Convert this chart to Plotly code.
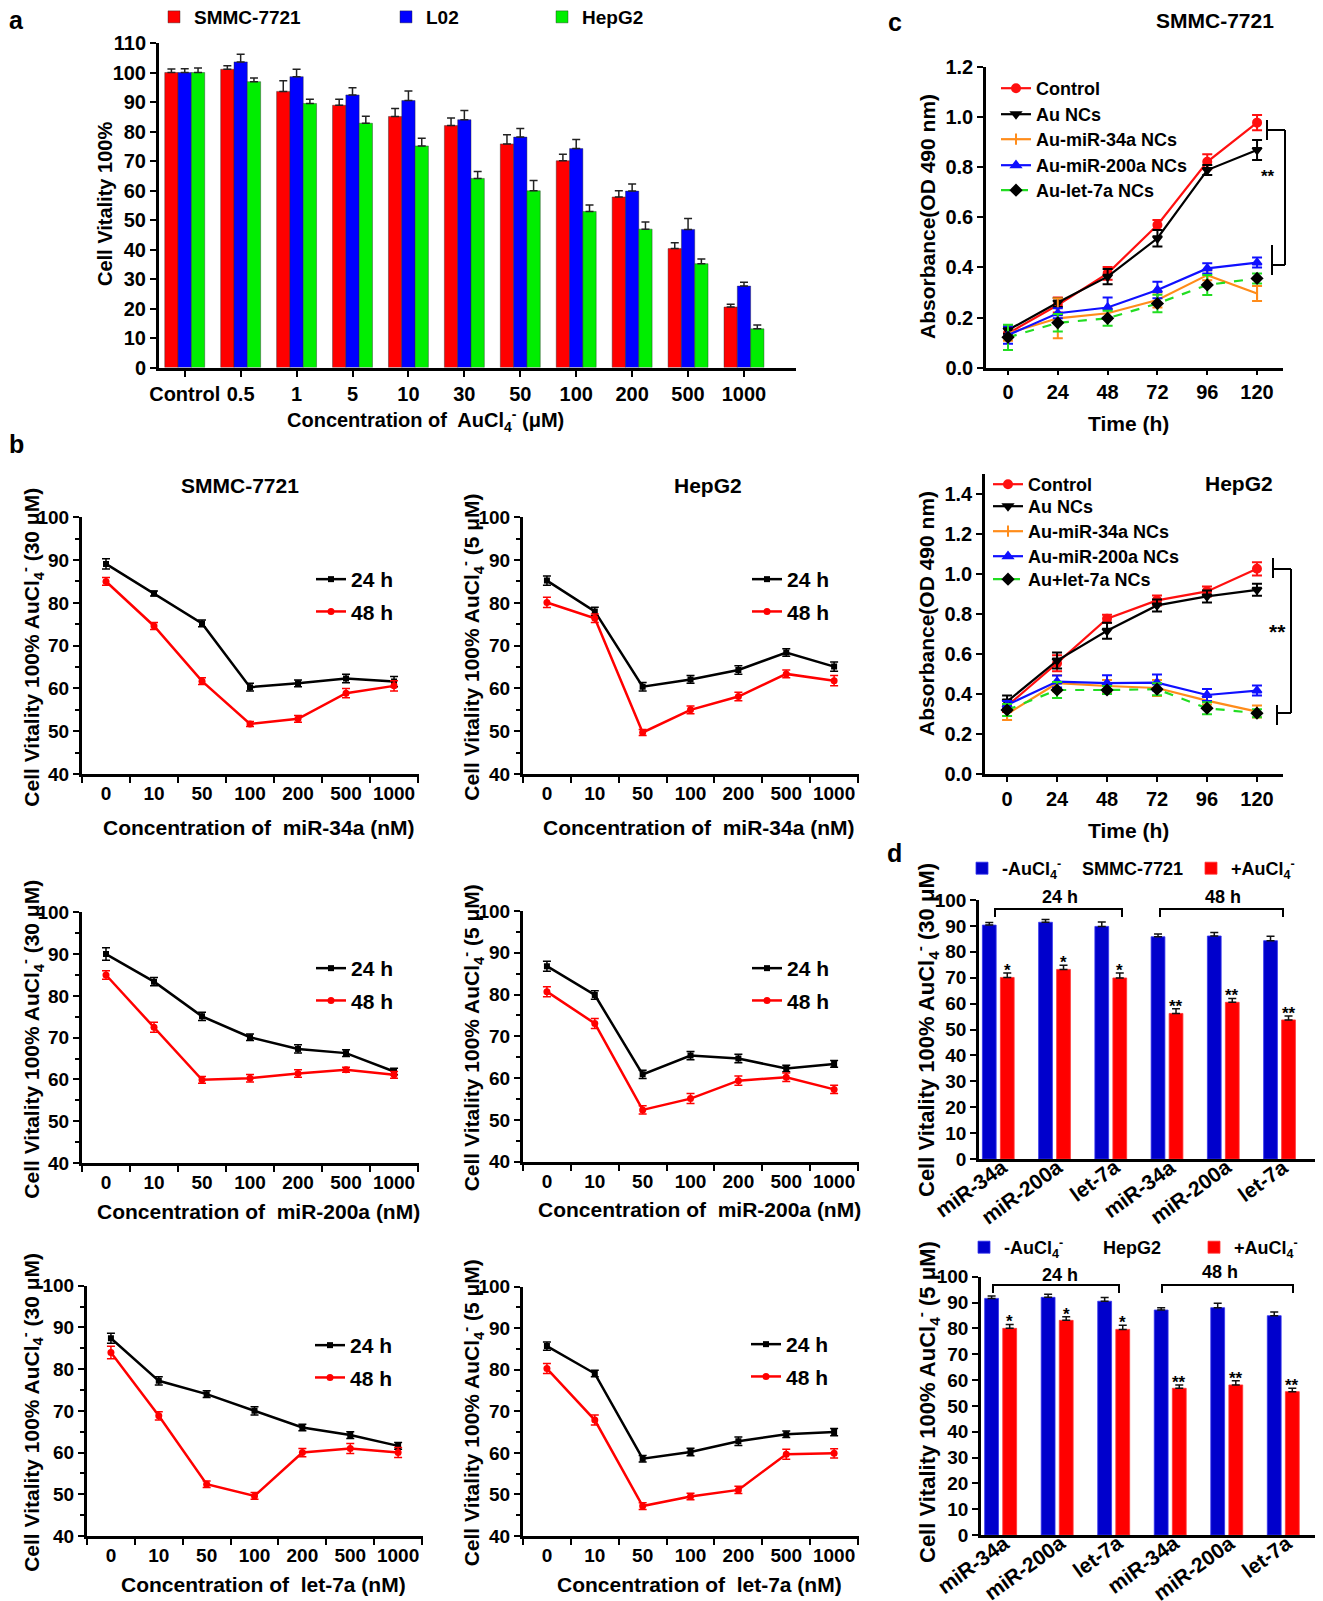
import plotly.graph_objects as go

W, H = 1323, 1601
OFF = 8  # page body margin of the browser
FONT = "Liberation Sans, Arial, Helvetica, sans-serif"

# ---------------- data ----------------
# panel a
a_categories = ['Control', '0.5', '1', '5', '10', '30', '50', '100', '200', '500', '1000']
a_smmc = [100, 101.1, 93.6, 88.9, 85.1, 82.0, 75.8, 70.1, 57.8, 40.3, 20.5]
a_smmc_err = [1.2, 1.2, 3.6, 2.0, 2.7, 2.6, 3.1, 2.2, 2.1, 2.0, 0.9]
a_l02 = [100, 103.6, 98.6, 92.4, 90.5, 84.0, 78.1, 74.2, 59.8, 46.8, 27.6]
a_l02_err = [1.3, 2.6, 2.5, 2.4, 3.2, 3.1, 2.9, 3.1, 2.4, 3.7, 1.3]
a_hepg2 = [100, 96.9, 89.5, 82.8, 75.1, 64.1, 59.9, 52.9, 46.9, 35.2, 13.1]
a_hepg2_err = [1.5, 1.2, 1.4, 2.4, 2.6, 2.3, 3.5, 2.2, 2.4, 1.6, 1.3]

# panel c
c_time = [0, 24, 48, 72, 96, 120]
c1_control = [0.137, 0.25, 0.376, 0.569, 0.821, 0.977]
c1_control_err = [0.02, 0.03, 0.025, 0.02, 0.03, 0.03]
c1_au = [0.15, 0.26, 0.363, 0.516, 0.788, 0.868]
c1_au_err = [0.015, 0.018, 0.03, 0.033, 0.02, 0.04]
c1_34a = [0.137, 0.197, 0.217, 0.27, 0.369, 0.296]
c1_34a_err = [0.03, 0.08, 0.02, 0.03, 0.02, 0.03]
c1_200a = [0.13, 0.217, 0.24, 0.31, 0.396, 0.419]
c1_200a_err = [0.035, 0.02, 0.04, 0.033, 0.02, 0.02]
c1_let7a = [0.121, 0.179, 0.197, 0.256, 0.33, 0.356]
c1_let7a_err = [0.05, 0.035, 0.03, 0.035, 0.04, 0.02]

c2_control = [0.34, 0.554, 0.776, 0.868, 0.913, 1.026]
c2_control_err = [0.03, 0.04, 0.02, 0.025, 0.025, 0.033]
c2_au = [0.362, 0.567, 0.716, 0.843, 0.888, 0.921]
c2_au_err = [0.03, 0.04, 0.04, 0.03, 0.03, 0.03]
c2_34a = [0.30, 0.454, 0.44, 0.43, 0.367, 0.312]
c2_34a_err = [0.03, 0.04, 0.03, 0.04, 0.02, 0.03]
c2_200a = [0.345, 0.462, 0.454, 0.457, 0.395, 0.417]
c2_200a_err = [0.02, 0.03, 0.04, 0.04, 0.03, 0.025]
c2_let7a = [0.32, 0.42, 0.42, 0.424, 0.329, 0.304]
c2_let7a_err = [0.03, 0.04, 0.02, 0.03, 0.03, 0.02]

c1_names = ['Control', 'Au NCs', 'Au-miR-34a NCs', 'Au-miR-200a NCs', 'Au-let-7a NCs']
c2_names = ['Control', 'Au NCs', 'Au-miR-34a NCs', 'Au-miR-200a NCs', 'Au+let-7a NCs']

# panel b
b_conc = ['0', '10', '50', '100', '200', '500', '1000']
b1_24 = [89.1, 82.2, 75.2, 60.3, 61.2, 62.3, 61.6]
b1_24_err = [1.2, 0.6, 0.8, 0.9, 0.8, 1.0, 1.2]
b1_48 = [85.0, 74.6, 61.7, 51.7, 52.9, 58.9, 60.6]
b1_48_err = [0.9, 0.8, 0.8, 0.6, 0.8, 1.1, 1.2]
b2_24 = [85.2, 78.0, 60.4, 62.1, 64.3, 68.4, 65.1]
b2_24_err = [1.1, 1.0, 1.0, 0.9, 1.0, 0.9, 1.1]
b2_48 = [80.1, 76.4, 49.7, 55.0, 58.1, 63.4, 61.8]
b2_48_err = [1.2, 1.0, 0.7, 0.9, 1.0, 0.9, 1.2]
b3_24 = [90.0, 83.4, 75.1, 70.1, 67.3, 66.3, 61.9]
b3_24_err = [1.5, 1.0, 1.0, 0.8, 1.0, 0.8, 0.8]
b3_48 = [85.0, 72.5, 59.9, 60.3, 61.4, 62.3, 61.1]
b3_48_err = [1.0, 1.2, 0.8, 0.9, 0.9, 0.6, 0.8]
b4_24 = [86.8, 79.9, 60.9, 65.4, 64.7, 62.3, 63.4]
b4_24_err = [1.2, 1.0, 1.0, 1.0, 1.0, 0.8, 0.8]
b4_48 = [80.7, 73.1, 52.4, 55.1, 59.4, 60.2, 57.3]
b4_48_err = [1.2, 1.2, 1.0, 1.2, 1.1, 1.0, 1.0]
b5_24 = [87.4, 77.2, 74.0, 70.0, 66.0, 64.2, 61.6]
b5_24_err = [1.2, 1.0, 0.8, 1.0, 0.8, 0.8, 0.8]
b5_48 = [84.0, 68.8, 52.4, 49.6, 60.0, 61.0, 60.0]
b5_48_err = [1.5, 1.0, 0.8, 0.8, 1.0, 1.2, 1.2]
b6_24 = [85.7, 79.1, 58.6, 60.2, 62.8, 64.5, 65.0]
b6_24_err = [1.0, 0.8, 0.8, 0.9, 1.0, 0.8, 0.9]
b6_48 = [80.3, 67.9, 47.2, 49.5, 51.1, 59.7, 59.9]
b6_48_err = [1.2, 1.2, 0.8, 0.8, 0.9, 1.2, 1.1]

# panel d
d_labels = ['miR-34a', 'miR-200a', 'let-7a', 'miR-34a', 'miR-200a', 'let-7a']
d1_minus = [90.3, 91.4, 89.8, 85.8, 86.1, 84.3]
d1_minus_err = [1.0, 1.1, 1.7, 1.1, 1.4, 1.7]
d1_plus = [70.1, 73.2, 69.9, 56.2, 60.5, 53.7]
d1_plus_err = [1.7, 1.6, 1.9, 1.8, 1.5, 1.5]
d2_minus = [91.6, 92.0, 90.5, 87.1, 88.0, 84.9]
d2_minus_err = [0.9, 1.2, 1.4, 0.9, 1.7, 1.4]
d2_plus = [80.0, 83.1, 79.6, 56.8, 58.1, 55.5]
d2_plus_err = [1.5, 1.4, 1.6, 1.3, 1.6, 1.3]
d_stars = ['*', '*', '*', '**', '**', '**']

# ---------------- helpers (page pixel -> paper) ----------------
def X(p):
    return (p - OFF) / W


def Y(p):
    return 1 - (p - OFF) / H


def xdom(a, b):
    return [X(a), X(b)]


def ydom(top, bot):
    return [Y(bot), Y(top)]


fig = go.Figure()
annotations = []
shapes = []
layout = {}


def bfont(size):
    return dict(size=size, family=FONT, color='black', weight='bold')


def txt(t, x, y, size, angle=0, xanchor='center', yanchor='middle'):
    annotations.append(dict(text=t, x=X(x), y=Y(y), xref='paper', yref='paper',
                            showarrow=False, textangle=angle, xanchor=xanchor, yanchor=yanchor,
                            font=bfont(size)))


def seg(x0, y0, x1, y1, w=2):
    shapes.append(dict(type='line', xref='paper', yref='paper', x0=X(x0), y0=Y(y0),
                       x1=X(x1), y1=Y(y1), line=dict(color='black', width=w)))


def ax_common(lw, size):
    return dict(showline=True, linecolor='black', linewidth=lw, ticks='outside',
                tickcolor='black', tickwidth=2, ticklen=6, showgrid=False, zeroline=False,
                mirror=False, fixedrange=True, automargin=False, tickfont=bfont(size))


def add_axes(n, xd, yd, xcfg, ycfg):
    xk = 'xaxis' if n == 1 else 'xaxis%d' % n
    yk = 'yaxis' if n == 1 else 'yaxis%d' % n
    layout[xk] = dict(domain=xd, anchor='y' if n == 1 else 'y%d' % n, **xcfg)
    layout[yk] = dict(domain=yd, anchor='x' if n == 1 else 'x%d' % n, **ycfg)


def refs(n):
    return ('x', 'y') if n == 1 else ('x%d' % n, 'y%d' % n)


def legend(x, y, size, gap=0, **kw):
    d = dict(x=X(x), y=Y(y), xanchor='left', yanchor='top', bgcolor='rgba(0,0,0,0)',
             font=bfont(size), itemwidth=30, tracegroupgap=gap, traceorder='grouped',
             borderwidth=0)
    d.update(kw)
    return d


# ---------------- panel a ----------------
xa, ya = refs(1)
bw_a = 0.238
for i, (name, vals, err, col, leg, lx) in enumerate([
        ('SMMC-7721', a_smmc, a_smmc_err, '#FF0000', 'legend', 154),
        ('L02', a_l02, a_l02_err, '#0000FF', 'legend2', 386),
        ('HepG2', a_hepg2, a_hepg2_err, '#00EE00', 'legend3', 542)]):
    fig.add_trace(go.Bar(x=a_categories, y=vals, name=name, xaxis=xa, yaxis=ya,
                         width=bw_a, offset=-1.5 * bw_a + i * bw_a,
                         marker=dict(color=col, line=dict(color='rgba(40,40,40,0.7)', width=0.6)),
                         error_y=dict(type='data', symmetric=False, array=err,
                                      arrayminus=[0] * len(err), color='#222', thickness=1.5, width=4),
                         legend=leg, showlegend=True))
    layout[leg] = legend(lx, -2, 19)
xc = ax_common(3, 20)
xc.update(range=[-0.46, 10.93], type='category', ticklen=6, tickangle=0)
yc = ax_common(3, 20)
yc.update(range=[0, 110], dtick=10, tick0=0)
add_axes(1, xdom(159, 796), ydom(43, 367.5), xc, yc)
txt('a', 16, 20, 25)
txt('Cell Vitality 100%', 105, 204, 20, angle=-90)
txt('Concentration of  AuCl<sub>4</sub><sup>-</sup> (μM)', 425, 420, 20)

# ---------------- panel c ----------------
c_styles = [
    dict(color='#FF1010', symbol='circle', dash='solid', mcolor='#FF1010'),
    dict(color='#000000', symbol='triangle-down', dash='solid', mcolor='#000000'),
    dict(color='#FF8C1A', symbol='line-ns-open', dash='solid', mcolor='#FF8C1A'),
    dict(color='#1010FF', symbol='triangle-up', dash='solid', mcolor='#1010FF'),
    dict(color='#22DD22', symbol='diamond', dash='dash', mcolor='#000000'),
]
c_sets = [
    (2, [c1_control, c1_au, c1_34a, c1_200a, c1_let7a],
     [c1_control_err, c1_au_err, c1_34a_err, c1_200a_err, c1_let7a_err], c1_names,
     996, [89, 115, 140, 166, 191]),
    (3, [c2_control, c2_au, c2_34a, c2_200a, c2_let7a],
     [c2_control_err, c2_au_err, c2_34a_err, c2_200a_err, c2_let7a_err], c2_names,
     988, [485, 507, 532, 557, 580]),
]
for n, series, errs, names, lx, lys in c_sets:
    xr, yr = refs(n)
    for k, (vals, err, name, st, ly) in enumerate(zip(series, errs, names, c_styles, lys)):
        leg = 'legend%d' % (10 * n + k)
        fig.add_trace(go.Scatter(
            x=c_time, y=vals, name=name, xaxis=xr, yaxis=yr, mode='lines+markers',
            line=dict(color=st['color'], width=2.2, dash=st['dash']),
            marker=dict(symbol=st['symbol'], color=st['mcolor'], size=8,
                        line=dict(color=st['mcolor'], width=2)),
            error_y=dict(type='data', array=err, color=st['color'] if k != 4 else '#22DD22',
                         thickness=2, width=5),
            legend=leg, showlegend=True))
        layout[leg] = legend(lx, ly - 19, 18)

xc = ax_common(2.5, 20)
xc.update(range=[-10.6, 132.5], tickvals=c_time, ticklen=5, tickangle=0)
yc = ax_common(2.5, 20)
yc.update(range=[0, 1.2], dtick=0.2, tickformat='.1f')
add_axes(2, xdom(986, 1283), ydom(66.7, 367.7), xc, yc)
xc = ax_common(2.5, 20)
xc.update(range=[-10.6, 132.5], tickvals=c_time, ticklen=5, tickangle=0)
yc = ax_common(2.5, 20)
yc.update(range=[0, 1.5], tickvals=[0, 0.2, 0.4, 0.6, 0.8, 1.0, 1.2, 1.4], tickformat='.1f')
add_axes(3, xdom(985, 1283), ydom(474, 774), xc, yc)

txt('c', 895, 22, 25)
txt('SMMC-7721', 1215, 20, 21)
txt('Absorbance(OD 490 nm)', 927, 217, 21, angle=-90)
txt('Time (h)', 1128, 423, 21)
txt('HepG2', 1239, 483, 21)
txt('Absorbance(OD 490 nm)', 927, 614, 21, angle=-90)
txt('Time (h)', 1128, 830, 21)
# significance brackets
seg(1267, 120, 1267, 140); seg(1267, 130, 1285, 130); seg(1285, 130, 1285, 265)
seg(1272, 265, 1285, 265); seg(1272, 245, 1272, 275)
txt('**', 1268, 176, 17)
seg(1273, 558, 1273, 578); seg(1273, 569, 1291, 569); seg(1291, 569, 1291, 713)
seg(1277, 713, 1291, 713); seg(1277, 705, 1277, 725)
txt('**', 1277, 631, 21)

# ---------------- panel b ----------------
b_sets = [
    (4, (82, 419), (517.3, 774), b1_24, b1_24_err, b1_48, b1_48_err, 'miR-34a', '30', 'legend6', (311, 559)),
    (5, (523, 859), (517.3, 774), b2_24, b2_24_err, b2_48, b2_48_err, 'miR-34a', '5', 'legend7', (747, 559)),
    (6, (82, 419), (912.3, 1163), b3_24, b3_24_err, b3_48, b3_48_err, 'miR-200a', '30', 'legend8', (311, 948)),
    (7, (523, 859), (911, 1161.7), b4_24, b4_24_err, b4_48, b4_48_err, 'miR-200a', '5', 'legend9', (747, 948)),
    (8, (87, 423), (1285.7, 1536), b5_24, b5_24_err, b5_48, b5_48_err, 'let-7a', '30', 'legend10', (310, 1325)),
    (9, (523, 859), (1286.7, 1536), b6_24, b6_24_err, b6_48, b6_48_err, 'let-7a', '5', 'legend11', (746, 1324)),
]
for n, xd, yd, v24, e24, v48, e48, mir, conc, leg, lpos in b_sets:
    xr, yr = refs(n)
    fig.add_trace(go.Scatter(x=b_conc, y=v24, name='24 h', xaxis=xr, yaxis=yr, mode='lines+markers',
                             line=dict(color='black', width=2.5),
                             marker=dict(symbol='square', size=6, color='black'),
                             error_y=dict(type='data', array=e24, color='black', thickness=1.5, width=4),
                             legend=leg, legendgroup=leg + 'a'))
    fig.add_trace(go.Scatter(x=b_conc, y=v48, name='48 h', xaxis=xr, yaxis=yr, mode='lines+markers',
                             line=dict(color='#FF0000', width=2.5),
                             marker=dict(symbol='circle', size=7, color='#FF0000'),
                             error_y=dict(type='data', array=e48, color='#FF0000', thickness=1.5, width=4),
                             legend=leg, legendgroup=leg + 'b'))
    xc = ax_common(3, 19)
    xc.update(type='category', range=[-0.5, 6.52], tickson='boundaries', ticklen=6, tickangle=0)
    yc = ax_common(3, 19)
    yc.update(range=[40, 100], dtick=10,
              minor=dict(dtick=5, ticks='outside', ticklen=4, tickwidth=2, tickcolor='black'))
    add_axes(n, xdom(*xd), ydom(*yd), xc, yc)
    layout[leg] = legend(lpos[0], lpos[1], 21, gap=2)
    ylab_x = 32 if xd[0] < 200 else 472
    ycen = (yd[0] + yd[1]) / 2 + 2
    txt('Cell Vitality 100% AuCl<sub>4</sub><sup>-</sup> (' + conc + ' μM)', ylab_x, ycen, 21, angle=-90)
    xcen = (xd[0] + xd[1]) / 2 + 8
    xlab_y = yd[1] + 53 if n in (4, 5) else yd[1] + 48
    txt('Concentration of  ' + mir + ' (nM)', xcen, xlab_y, 21)

txt('b', 16, 444, 25)
txt('SMMC-7721', 240, 485, 21)
txt('HepG2', 708, 485, 21)

# ---------------- panel d ----------------
d_x = list(range(len(d_labels)))
bw_d = 0.245
d_sets = [
    (10, (979, 1321), (900, 1159), d1_minus, d1_minus_err, d1_plus, d1_plus_err,
     ('legend12', 'legend13'), 'SMMC-7721', '30', (962, 1191, 850), 869, 1030),
    (11, (981, 1321), (1276.7, 1535), d2_minus, d2_minus_err, d2_plus, d2_plus_err,
     ('legend14', 'legend15'), 'HepG2', '5', (964, 1194, 1229), 1248, 1402),
]
for n, xd, yd, vm, em, vp, ep, legs, cell, conc, lpos, ly, ylc in d_sets:
    xr, yr = refs(n)
    fig.add_trace(go.Bar(x=d_x, y=vm, name='-AuCl<sub>4</sub><sup>-</sup>', xaxis=xr, yaxis=yr,
                         width=bw_d, offset=-0.28, marker=dict(color='#0000CC', line=dict(color='#3333EE', width=0.8)),
                         error_y=dict(type='data', symmetric=False, array=em, arrayminus=[0] * len(em),
                                      color='#111', thickness=1.5, width=4),
                         legend=legs[0]))
    fig.add_trace(go.Bar(x=d_x, y=vp, name='+AuCl<sub>4</sub><sup>-</sup>', xaxis=xr, yaxis=yr,
                         width=bw_d, offset=0.04, marker=dict(color='#FF0000', line=dict(color='#FF3333', width=0.8)),
                         error_y=dict(type='data', symmetric=False, array=ep, arrayminus=[0] * len(ep),
                                      color='#111', thickness=1.5, width=4),
                         legend=legs[1]))
    for i, s in enumerate(d_stars):
        annotations.append(dict(text=s, x=d_x[i] + 0.04 + bw_d / 2, y=vp[i] + ep[i], xref=xr, yref=yr,
                                showarrow=False, xanchor='center', yanchor='bottom', yshift=-9,
                                font=bfont(17)))
    # rotated category labels, end of text next to the group
    for i, lab in enumerate(d_labels):
        annotations.append(dict(text=lab, x=d_x[i] + 0.27, y=Y(yd[1] - 7), xref=xr, yref='paper',
                                showarrow=False, xanchor='right', yanchor='top', textangle=-36,
                                font=bfont(21)))
    xc = ax_common(2.5, 21)
    xc.update(range=[-0.34, 5.74] if n == 10 else [-0.345, 5.67], tickvals=d_x,
              showticklabels=False, ticks='')
    yc = ax_common(2.5, 19)
    yc.update(range=[0, 100], dtick=10)
    add_axes(n, xdom(*xd), ydom(*yd), xc, yc)
    layout[legs[0]] = legend(lpos[0], lpos[2], 18)
    layout[legs[1]] = legend(lpos[1], lpos[2], 18)
    txt(cell, 1132, ly, 18)
    txt('Cell Vitality 100% AuCl<sub>4</sub><sup>-</sup> (' + conc + ' μM)', 927, ylc, 22, angle=-90)

txt('d', 895, 853, 25)
# time brackets
txt('24 h', 1060, 897, 18); seg(995, 909, 1122, 909); seg(995, 908, 995, 917); seg(1122, 908, 1122, 917)
txt('48 h', 1223, 897, 18); seg(1160, 909, 1283, 909); seg(1160, 908, 1160, 917); seg(1283, 908, 1283, 917)
txt('24 h', 1060, 1275, 18); seg(993, 1285, 1119, 1285); seg(993, 1284, 993, 1293); seg(1119, 1284, 1119, 1293)
txt('48 h', 1220, 1272, 18); seg(1162, 1285, 1293, 1285); seg(1162, 1284, 1162, 1293); seg(1293, 1284, 1293, 1293)

layout.update(dict(width=W, height=H, margin=dict(l=0, r=0, t=0, b=0, autoexpand=False),
                   paper_bgcolor='white', plot_bgcolor='white', barmode='overlay',
                   font=dict(family=FONT, color='black', weight='bold'),
                   annotations=annotations, shapes=shapes, showlegend=True))
fig.update_layout(**layout)
fig.write_html('out.html')
